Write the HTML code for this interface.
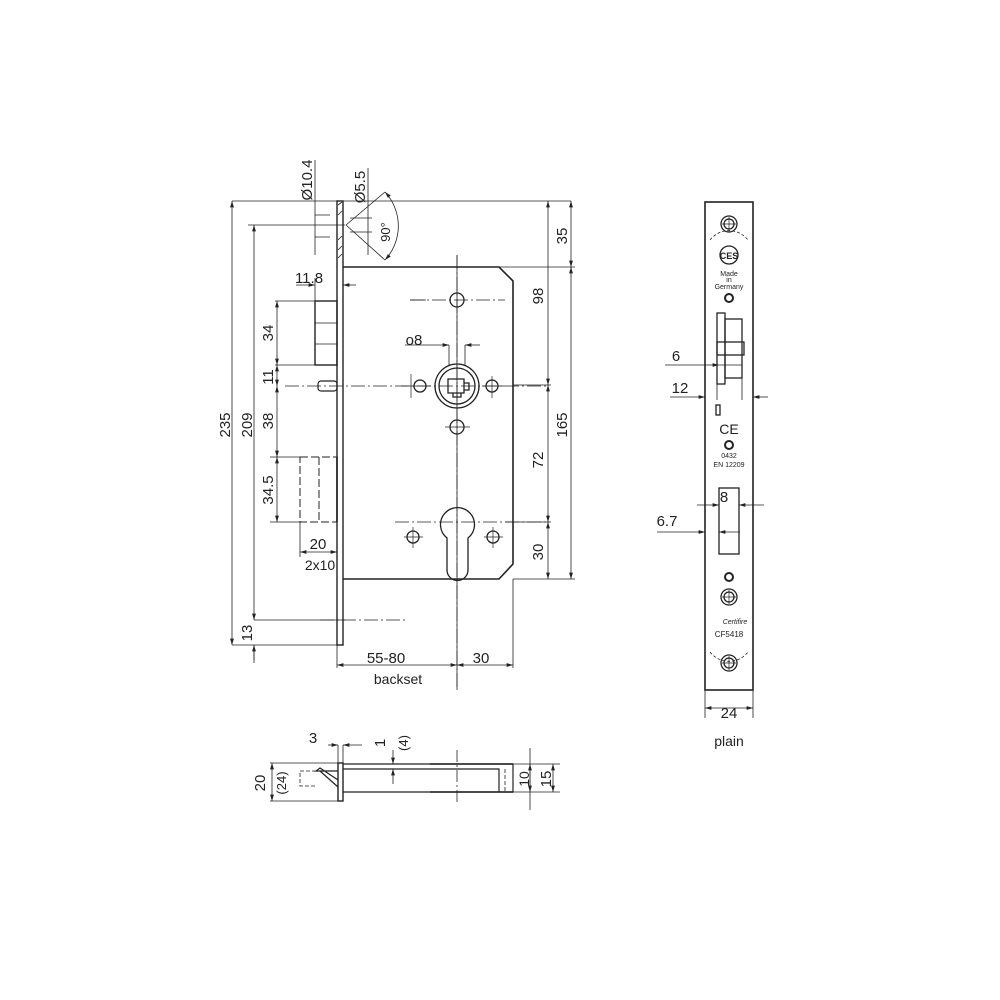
<!DOCTYPE html>
<html><head><meta charset="utf-8"><style>
html,body{margin:0;padding:0;background:#fff}
svg{display:block}
text{font-family:"Liberation Sans",sans-serif;fill:#222}
</style></head><body>
<svg width="1000" height="1000" viewBox="0 0 1000 1000" xmlns="http://www.w3.org/2000/svg">
<defs>
<marker id="a" viewBox="0 0 10 6" refX="10" refY="3" markerWidth="8" markerHeight="5" orient="auto-start-reverse"><path d="M0,0L10,3L0,6z" fill="#222"/></marker>
</defs>
<g stroke="#222" fill="none" stroke-width="0.8">
<path d="M232,201H571M248,225H345M254,620H345M232,645H337M343,267H575M513,385H551M505,522H551M513,579H575"/>
<path d="M337,645V668M457,255V690M513,579V668"/>
<path d="M232,201V645" marker-start="url(#a)" marker-end="url(#a)"/>
<path d="M254,225V620" marker-start="url(#a)" marker-end="url(#a)"/>
<path d="M254,645V663"/>
<path d="M254,645V660" marker-start="url(#a)"/>
<path d="M571,201V267" marker-start="url(#a)" marker-end="url(#a)"/>
<path d="M571,267V579" marker-start="url(#a)" marker-end="url(#a)"/>
<path d="M548,201V385" marker-start="url(#a)" marker-end="url(#a)"/>
<path d="M548,385V522" marker-start="url(#a)" marker-end="url(#a)"/>
<path d="M548,522V579" marker-start="url(#a)" marker-end="url(#a)"/>
<path d="M277,301V365" marker-start="url(#a)" marker-end="url(#a)"/>
<path d="M277,365V386" marker-start="url(#a)" marker-end="url(#a)"/>
<path d="M277,386V457" marker-start="url(#a)" marker-end="url(#a)"/>
<path d="M277,457V522" marker-start="url(#a)" marker-end="url(#a)"/>
<path d="M275,301H315M275,365H320M270,457H300M270,522H300"/>
<path d="M300,522V557"/>
<path d="M300,552H337" marker-start="url(#a)" marker-end="url(#a)"/>
<path d="M296,285H315" marker-end="url(#a)"/><path d="M356,285H343" marker-end="url(#a)"/><path d="M315,278V301"/>
<path d="M337,665H457" marker-start="url(#a)" marker-end="url(#a)"/>
<path d="M457,665H513" marker-start="url(#a)" marker-end="url(#a)"/>
<path d="M315,160V255M315,215H330M315,237H330"/>
<path d="M368,168V255M350,218H372M350,232H372"/>
<path d="M346,225L385,192M346,225L385,260"/>
<path d="M385,192A50,50 0 0 1 385,260" marker-start="url(#a)" marker-end="url(#a)"/>
<rect x="337" y="201" width="6" height="444" stroke-width="1.4"/>
<path d="M338,205L342,202M338,215L342,211M338,240L342,236M338,250L342,246M338,258L342,254"/>
<path d="M343,267H499L513,281V564L499,579H343" stroke-width="1.6"/>
<rect x="315" y="301" width="22" height="64" stroke-width="1.4"/>
<path d="M315,323H337M315,344H337"/>
<rect x="318" y="381" width="19" height="10" rx="3" stroke-width="1.2"/>
<path d="M300,457H337V522H300zM319,457V522" stroke-dasharray="8,3" stroke-width="1"/>
<path d="M337,457V522" stroke-width="1.6"/>
<path d="M285,386H548M410,300H505M395,522H548" stroke-dasharray="14,3,2,3"/>
<path d="M457,255V690" stroke-dasharray="14,3,2,3"/>
<path d="M320,620H405" stroke-dasharray="14,3,2,3"/>
<g stroke-width="1.3">
<circle cx="457" cy="300" r="7"/><circle cx="457" cy="427" r="7"/>
<circle cx="420" cy="386" r="6"/><circle cx="492" cy="386" r="6"/>
<circle cx="413" cy="537" r="6"/><circle cx="493" cy="537" r="6"/>
<circle cx="457" cy="386" r="22"/><circle cx="457" cy="386" r="18"/>
<path d="M448,379H464V393H448zM464,383H469V390H464zM453,393V397H461V393"/>
<path d="M447,570V538A17,17 0 1 1 468,538V570A10.5,10.5 0 0 1 447,570Z"/>
</g>
<path d="M410,300H426M401,386H431M411,374V398M482,386H505M492,376V398M445,427H470M404,537H423M413,527V548M484,537H503M493,527V548" stroke-width="0.7"/>
<path d="M449,345V365M465,345V365"/>
<path d="M405,345H449" marker-end="url(#a)"/><path d="M480,345H465" marker-end="url(#a)"/>
<rect x="705" y="202" width="48" height="488" stroke-width="1.6"/>
<path d="M710,240A24,24 0 0 1 748,240M710,652A24,24 0 0 0 748,652" stroke-dasharray="3,2"/>
<g stroke-width="1.3">
<circle cx="729" cy="224" r="8"/><circle cx="729" cy="224" r="5"/>
<circle cx="729" cy="663" r="8"/><circle cx="729" cy="663" r="5"/>
<circle cx="729" cy="255" r="9"/>
<circle cx="729" cy="298" r="4" stroke-width="2"/>
<circle cx="729" cy="445" r="4" stroke-width="2"/>
<circle cx="729" cy="577" r="4" stroke-width="2"/>
<circle cx="729" cy="597" r="8"/><circle cx="729" cy="597" r="5"/>
<rect x="717" y="313" width="8" height="71"/><rect x="725" y="319" width="17" height="59"/><rect x="717" y="342" width="27" height="13"/>
<rect x="716" y="405" width="4" height="10"/>
<rect x="719" y="488" width="20" height="66"/>
</g>
<path d="M729,217V231M722,224H736M729,656V670M722,663H736M729,590V604M722,597H736" stroke-width="0.7"/>
<path d="M717,384V400M742,378V400M705,690V718M753,690V718"/>
<path d="M665,365H719" marker-end="url(#a)"/><path d="M719,365H742"/>
<path d="M670,397H705" marker-end="url(#a)"/><path d="M768,397H753" marker-end="url(#a)"/>
<path d="M697,505H719" marker-end="url(#a)"/><path d="M764,505H739" marker-end="url(#a)"/>
<path d="M657,532H705" marker-end="url(#a)"/><path d="M740,532H719" marker-end="url(#a)"/>
<path d="M705,708H753" marker-start="url(#a)" marker-end="url(#a)"/>
<rect x="338" y="763" width="5" height="38" stroke-width="1.4"/>
<path d="M343,764H513V792H343M343,769H499V792M499,769V792" stroke-width="1.2"/>
<path d="M430,764H513M430,792H513" stroke-width="1.4"/>
<path d="M347,792H499" stroke-dasharray="6,2"/>
<path d="M505,769V792" stroke-dasharray="4,2"/>
<path d="M338,771H316L320,768L338,780M338,787L320,771" stroke-width="1.2"/>
<path d="M316,771H300V786H316" stroke-dasharray="4,2"/>
<path d="M457,750V805" stroke-dasharray="12,3,2,3"/>
<path d="M270,763H338M270,801H338M505,764H560M505,792H560M530,748V810"/>
<path d="M272,763V801" marker-start="url(#a)" marker-end="url(#a)"/>
<path d="M530,764V792" marker-start="url(#a)" marker-end="url(#a)"/>
<path d="M553,764V792" marker-start="url(#a)" marker-end="url(#a)"/>
<path d="M338,745V763M343,745V763"/>
<path d="M328,745H338" marker-end="url(#a)"/><path d="M362,745H343" marker-end="url(#a)"/>
<path d="M393,750V764" marker-end="url(#a)"/><path d="M393,784V769" marker-end="url(#a)"/>
</g>
<g font-size="15">
<text x="273" y="333" transform="rotate(-90 273 333)" text-anchor="middle">34</text>
<text x="273" y="377" transform="rotate(-90 273 377)" text-anchor="middle">11</text>
<text x="273" y="421" transform="rotate(-90 273 421)" text-anchor="middle">38</text>
<text x="273" y="490" transform="rotate(-90 273 490)" text-anchor="middle">34.5</text>
<text x="230" y="425" transform="rotate(-90 230 425)" text-anchor="middle">235</text>
<text x="252" y="425" transform="rotate(-90 252 425)" text-anchor="middle">209</text>
<text x="252" y="633" transform="rotate(-90 252 633)" text-anchor="middle">13</text>
<text x="567" y="236" transform="rotate(-90 567 236)" text-anchor="middle">35</text>
<text x="543" y="296" transform="rotate(-90 543 296)" text-anchor="middle">98</text>
<text x="567" y="425" transform="rotate(-90 567 425)" text-anchor="middle">165</text>
<text x="543" y="460" transform="rotate(-90 543 460)" text-anchor="middle">72</text>
<text x="543" y="552" transform="rotate(-90 543 552)" text-anchor="middle">30</text>
<text x="312" y="180" transform="rotate(-90 312 180)" text-anchor="middle">Ø10.4</text>
<text x="365" y="187" transform="rotate(-90 365 187)" text-anchor="middle">Ø5.5</text>
<text x="390" y="232" transform="rotate(-90 390 232)" text-anchor="middle" font-size="13">90°</text>
<text x="309" y="283" text-anchor="middle">11.8</text>
<text x="414" y="345" text-anchor="middle">o8</text>
<text x="318" y="549" text-anchor="middle">20</text>
<text x="320" y="570" text-anchor="middle" font-size="14">2x10</text>
<text x="386" y="663" text-anchor="middle">55-80</text>
<text x="481" y="663" text-anchor="middle">30</text>
<text x="398" y="684" text-anchor="middle" font-size="14">backset</text>
<text x="676" y="361" text-anchor="middle">6</text>
<text x="680" y="393" text-anchor="middle">12</text>
<text x="724" y="502" text-anchor="middle">8</text>
<text x="667" y="526" text-anchor="middle">6.7</text>
<text x="729" y="718" text-anchor="middle">24</text>
<text x="729" y="746" text-anchor="middle" font-size="14">plain</text>
<text x="313" y="743" text-anchor="middle">3</text>
<text x="265" y="783" transform="rotate(-90 265 783)" text-anchor="middle">20</text>
<text x="286" y="783" transform="rotate(-90 286 783)" text-anchor="middle" font-size="13">(24)</text>
<text x="385" y="743" transform="rotate(-90 385 743)" text-anchor="middle">1</text>
<text x="408" y="743" transform="rotate(-90 408 743)" text-anchor="middle" font-size="13">(4)</text>
<text x="529" y="779" transform="rotate(-90 529 779)" text-anchor="middle" font-size="14">10</text>
<text x="551" y="779" transform="rotate(-90 551 779)" text-anchor="middle">15</text>
</g>
<g font-size="7" text-anchor="middle">
<text x="729" y="259" font-size="9" font-weight="bold">CES</text>
<text x="729" y="276">Made</text><text x="729" y="282">in</text><text x="729" y="289">Germany</text>
<text x="729" y="434" font-size="14">CE</text>
<text x="729" y="458">0432</text><text x="729" y="467">EN 12209</text>
<text x="735" y="624" font-style="italic">Certifire</text>
<text x="729" y="637" font-size="8">CF5418</text>
</g>
</svg>
</body></html>
